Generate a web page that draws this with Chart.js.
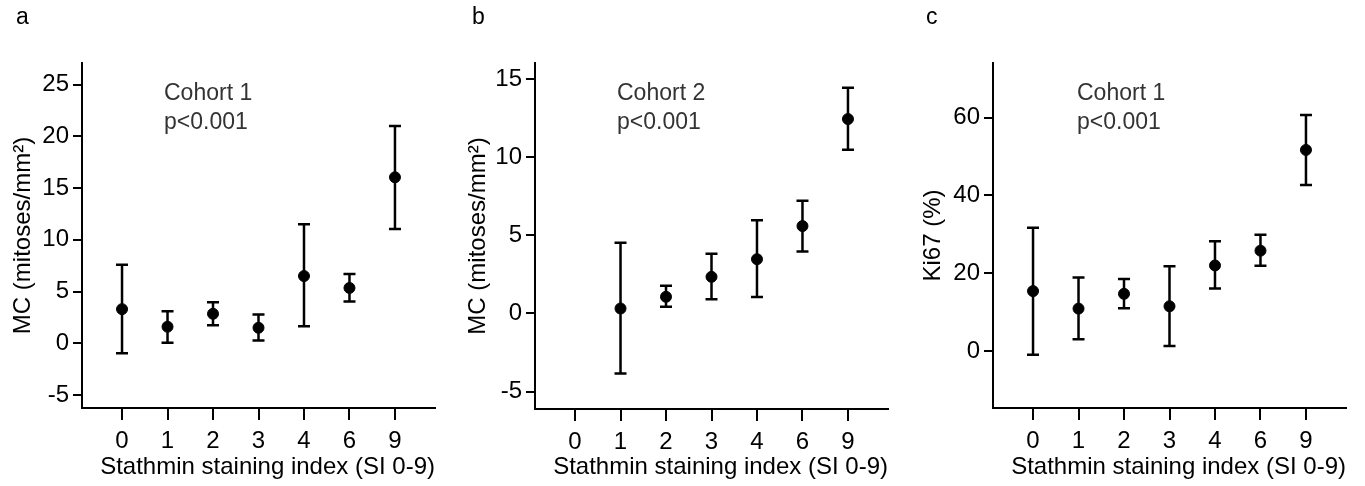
<!DOCTYPE html>
<html>
<head>
<meta charset="utf-8">
<script src="https://cdn.jsdelivr.net/npm/chart.js@4"></script>
<style>
  body { margin: 0; background: #fff; }
  .panel { position: absolute; top: 0; width: 455px; height: 486px; }
  .letter, .note { position: absolute; font-family: "Liberation Sans", Arial, sans-serif; }
  .letter { font-size: 23px; line-height: 1; top: 5px; color: #000; }
  .note { font-size: 23px; line-height: 29px; top: 78px; color: #333; }
</style>
</head>
<body>
<div class="panel" style="left:0"><canvas id="chartA"></canvas></div>
<div class="panel" style="left:455px"><canvas id="chartB"></canvas></div>
<div class="panel" style="left:910px"><canvas id="chartC"></canvas></div>
<div class="letter" style="left:16px">a</div>
<div class="letter" style="left:472px">b</div>
<div class="letter" style="left:926px">c</div>
<div class="note" style="left:164px">Cohort 1<br>p&lt;0.001</div>
<div class="note" style="left:617px">Cohort 2<br>p&lt;0.001</div>
<div class="note" style="left:1077px">Cohort 1<br>p&lt;0.001</div>
<script>
const categories = ["0", "1", "2", "3", "4", "6", "9"];

// panel a: MC, cohort 1
const mcCohort1Mean = [3.3, 1.6, 2.85, 1.5, 6.5, 5.35, 16.05];
const mcCohort1Low = [-0.97, 0.06, 1.74, 0.26, 1.65, 4.03, 11.06];
const mcCohort1High = [7.6, 3.1, 3.97, 2.77, 11.5, 6.7, 21.0];

// panel b: MC, cohort 2 (no SI 0 group)
const mcCohort2Mean = [null, 0.32, 1.07, 2.35, 3.48, 5.6, 12.46];
const mcCohort2Low = [null, -3.85, 0.43, 0.92, 1.05, 3.97, 10.49];
const mcCohort2High = [null, 4.53, 1.77, 3.82, 5.98, 7.22, 14.47];

// panel c: Ki67, cohort 1
const ki67Mean = [15.4, 10.9, 14.7, 11.5, 22.0, 25.8, 51.7];
const ki67Low = [-0.94, 3.0, 11.0, 1.3, 16.1, 21.9, 42.7];
const ki67High = [31.7, 18.9, 18.5, 21.8, 28.2, 29.9, 60.7];

const FONT = "'Liberation Sans', Arial, sans-serif";

const errorBars = {
    id: "errorBars",
    beforeDatasetsDraw(chart, args, opts) {
        const { ctx } = chart;
        const x = chart.scales.x, y = chart.scales.y;
        ctx.save();
        ctx.strokeStyle = "#000";
        ctx.lineWidth = 2.5;
        opts.low.forEach(function (v, i) {
            if (v == null) return;
            const px = x.getPixelForValue(i);
            const y1 = y.getPixelForValue(v);
            const y2 = y.getPixelForValue(opts.high[i]);
            ctx.beginPath();
            ctx.moveTo(px, y1); ctx.lineTo(px, y2);
            ctx.moveTo(px - 6, y1); ctx.lineTo(px + 6, y1);
            ctx.moveTo(px - 6, y2); ctx.lineTo(px + 6, y2);
            ctx.stroke();
        });
        ctx.restore();
    }
};

function makeChart(id, mean, low, high, yMin, yMax, yStep, yTitle, leftW, rightPad, bottomH) {
    const points = [];
    mean.forEach(function (v, i) {
        if (v != null) points.push({ x: i, y: v });
    });
    new Chart(document.getElementById(id), {
        type: "scatter",
        data: {
            datasets: [{
                data: points,
                backgroundColor: "#000",
                borderColor: "#000",
                pointRadius: 5.5,
                pointHoverRadius: 5.5
            }]
        },
        plugins: [errorBars],
        options: {
            responsive: true,
            maintainAspectRatio: false,
            animation: false,
            layout: { padding: { top: 63, right: rightPad, bottom: 0, left: 0 } },
            plugins: {
                legend: { display: false },
                tooltip: { enabled: false },
                errorBars: { low: low, high: high }
            },
            scales: {
                x: {
                    type: "linear",
                    min: -0.88,
                    max: 6.88,
                    afterFit: function (scale) { scale.height = bottomH; },
                    border: { display: true, color: "#000", width: 2 },
                    grid: { drawOnChartArea: false, drawTicks: true, tickLength: 12, color: "#000", lineWidth: 2 },
                    ticks: {
                        stepSize: 1,
                        includeBounds: false,
                        autoSkip: false,
                        maxRotation: 0,
                        padding: 7,
                        color: "#000",
                        font: { family: FONT, size: 24 },
                        callback: function (v) { return categories[v]; }
                    },
                    title: {
                        display: true,
                        text: "Stathmin staining index (SI 0-9)",
                        align: "end",
                        color: "#000",
                        font: { family: FONT, size: 24 },
                        padding: { top: 2, bottom: 4 }
                    }
                },
                y: {
                    min: yMin,
                    max: yMax,
                    afterFit: function (scale) { scale.width = leftW; },
                    border: { display: true, color: "#000", width: 2 },
                    grid: { drawOnChartArea: false, drawTicks: true, tickLength: 9, color: "#000", lineWidth: 2 },
                    ticks: {
                        stepSize: yStep,
                        includeBounds: false,
                        padding: 4,
                        color: "#000",
                        font: { family: FONT, size: 24 }
                    },
                    title: {
                        display: true,
                        text: yTitle,
                        color: "#000",
                        font: { family: FONT, size: 24 },
                        padding: { top: 9, bottom: 4 }
                    }
                }
            }
        }
    });
}

makeChart("chartA", mcCohort1Mean, mcCohort1Low, mcCohort1High, -6.26, 27.1, 5, "MC (mitoses/mm²)", 82, 20, 78);
makeChart("chartB", mcCohort2Mean, mcCohort2Low, mcCohort2High, -6.12, 16.05, 5, "MC (mitoses/mm²)", 80, 22, 77);
makeChart("chartC", ki67Mean, ki67Low, ki67High, -14.66, 74.06, 20, "Ki67 (%)", 83, 19, 78);
</script>
</body>
</html>
